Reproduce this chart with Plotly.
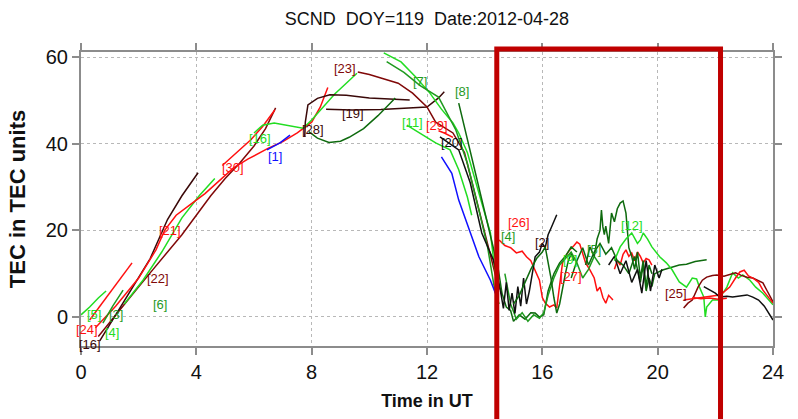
import plotly.graph_objects as go

# ---- colours used for the satellite tracks ----
BRIGHT = "#22dd22"
GREEN = "#1f9a1f"
DKGREEN = "#0e6a0e"
RED = "#ff1010"
MAROON = "#800808"
DARK = "#3a0808"
BLUE = "#1010ff"
BLACK = "#101010"

# ---- TEC tracks (time in UT hours, TEC units) ----
prn05_t = [0.0, 0.3, 0.6, 0.87]
prn05_v = [0.5, 2.3, 4.4, 6.0]

prn24_t = [0.3, 0.8, 1.3, 1.77]
prn24_v = [-0.7, 3.8, 8.3, 12.5]

prn03_t = [0.76, 1.1, 1.46]
prn03_v = [-1.4, 2.5, 6.2]

prn22_t = [0.6, 1.2, 2.0, 2.5, 3.0, 3.5, 4.0, 4.5, 5.0, 5.5, 6.0, 6.4, 6.75]
prn22_v = [-4.5, 0.5, 7, 11, 15, 19, 23.5, 28, 32, 35.5, 39.5, 43.5, 48.3]

prn16a_t = [0.65, 1.2, 1.8, 2.4, 3.0, 3.5, 4.06]
prn16a_v = [-5.5, 0.5, 7, 13.5, 22.5, 28, 33.3]

prn06_t = [1.5, 2.15, 2.8, 3.5, 4.1, 4.64]
prn06_v = [3, 8.5, 15, 22.9, 28, 32]

prn21_t = [0.5, 1.2, 2.0, 2.6, 2.9, 3.3, 3.8, 4.3, 4.8, 5.3, 5.8, 6.2, 6.5, 7.0, 7.5, 8.0, 8.3, 8.56]
prn21_v = [-2.5, 2.5, 9, 15.5, 20, 23.5, 26, 28.5, 31.5, 34.5, 36.5, 38, 39, 40.5, 42.5, 45, 48.5, 53]

prn30_t = [4.9, 5.4, 5.9, 6.3, 6.72]
prn30_v = [35, 38, 41, 44, 47.8]

prn01_t = [6.45, 6.9, 7.25]
prn01_v = [38.6, 40.2, 42]

prn16_t = [6.0, 6.3, 6.7, 7.2, 7.7, 8.0, 8.4, 8.8, 9.2, 9.57]
prn16_v = [42.5, 44.3, 44.8, 44.2, 43.6, 45.5, 48.5, 51.5, 54, 56.3]

prn19a_t = [7.76, 7.78, 7.87, 8.2, 8.63, 9.2, 10.0, 10.7, 11.4]
prn19a_v = [41.6, 45, 49, 50.5, 51.3, 51.2, 50.6, 50.3, 50.1]

prn19_t = [8.5, 9.4, 10.4, 11.4, 12.0, 12.4, 12.6]
prn19_v = [48, 47.8, 47.9, 48.2, 48.5, 50.6, 52]

prn28_t = [7.9, 8.2, 8.6, 9.0, 9.3, 9.8, 10.3, 10.9]
prn28_v = [42.8, 41.3, 40.3, 40.6, 41.5, 43.5, 46.5, 50.6]

prn23_t = [9.6, 10.0, 10.4, 11.0, 11.5, 12.0, 12.3, 12.9, 13.3, 13.6, 13.9, 14.2, 14.4, 14.6]
prn23_v = [56.6, 56, 55.2, 54, 51.7, 48.5, 45, 42.5, 38, 30, 22, 14, 9, 5]

prn13_t = [10.5, 10.8, 11.1, 11.6, 12.1, 12.5, 12.9, 13.1, 13.4, 13.8, 14.2, 14.35, 14.5]
prn13_v = [61.0, 60, 58.9, 55.5, 51.7, 48, 44.8, 42.5, 38, 28.6, 19.4, 11, 7]

prn07_t = [10.6, 11.2, 11.75, 12.4, 13.0, 13.4, 13.8, 14.1, 14.35, 14.5]
prn07_v = [59, 56.5, 53.5, 50.8, 43.2, 35.5, 24.7, 16.2, 6.2, 3]

prn08_t = [13.1, 13.4, 13.7, 14.0, 14.3, 14.5]
prn08_v = [49.4, 41, 33, 24.5, 16, 9]

prn11_t = [11.3, 11.8, 12.3, 12.8, 13.1, 13.4, 13.55]
prn11_v = [44.3, 42.3, 40.2, 38.6, 34, 27.7, 23.5]

prn20_t = [12.45, 12.8, 13.1, 13.5, 13.9, 14.3, 14.6]
prn20_v = [41.6, 40, 38.6, 31, 19.4, 13.2, 5]

prn29_t = [12.4, 12.6, 12.9]
prn29_v = [43, 42.5, 41.5]

prn01b_t = [12.5, 12.86, 13.1, 13.5, 13.8, 14.2, 14.4]
prn01b_v = [37, 33.2, 27, 19.4, 13.9, 8.5, 5]

prn26_t = [14.5, 14.7, 14.9, 15.1, 15.3, 15.45, 15.6, 15.7, 15.8, 15.9, 16.0, 16.1, 16.25, 16.4, 16.5]
prn26_v = [17.8, 16.5, 16, 14.8, 15.2, 13.9, 13, 11.5, 10, 8.5, 4.5, 3.2, 2.3, 2.8, 2.1]

prn27_t = [16.5, 16.6, 16.7, 16.8, 16.95, 17.1, 17.2, 17.3, 17.4, 17.5, 17.65, 17.8, 17.9, 18.0, 18.1, 18.2, 18.3, 18.45]
prn27_v = [2.1, 7, 12.5, 14, 15.5, 16.5, 17.3, 16.8, 14.8, 12.5, 10.9, 9, 6, 6.9, 4.5, 3.2, 5, 3.9]

prn27b_t = [18.5, 18.6, 18.7, 18.8, 18.9, 19.0, 19.1, 19.2, 19.3, 19.4, 19.5, 19.6, 19.7, 19.8]
prn27b_v = [11, 13, 12, 14.5, 15.5, 14, 14.8, 13, 15, 14, 12.5, 13.5, 13.2, 12]

prn02_t = [14.55, 14.65, 14.75, 14.85, 14.95, 15.05, 15.15, 15.25, 15.35, 15.45, 15.55, 15.65,
           15.75, 15.9, 16.0, 16.1, 16.2, 16.3, 16.4, 16.5]
prn02_v = [6, 2, 8, 1.5, 5.5, 0.8, 7, 2.5, 9, 3, 6, 10,
           13.9, 15, 17, 16, 19, 20.5, 22, 23.6]

prn04_t = [15.0, 15.2, 15.4, 15.6, 15.8, 16.0, 16.1, 16.2, 16.3, 16.4, 16.5, 16.6, 16.7, 16.8, 16.9, 17.0, 17.1]
prn04_v = [3, 5, 8, 11, 13.5, 15, 16.2, 13, 9, 4.5, 0.9, 3, 7, 10, 13, 14.5, 13]

prn09_t = [14.7, 14.9, 15.1, 15.3, 15.5, 15.7, 15.9, 16.05, 16.2, 16.4, 16.6, 16.8, 17.0, 17.2, 17.4, 17.6, 17.8, 18.0]
prn09_v = [10, 3, -0.5, 1, -1, 0.5, -0.3, 1, 5, 9, 12, 13.5, 15, 12.5, 9, 11, 14, 12]

prn04b_t = [14.45, 14.6, 14.75, 14.9, 15.0, 15.2, 15.4, 15.6, 15.75, 15.9, 16.05, 16.2, 16.4, 16.6, 16.8, 17.0, 17.2]
prn04b_v = [12, 5.5, 2.3, 1.5, -1, 0.5, -0.5, 1, 0.9, 0, 0.5, 6, 10, 12.5, 14, 16.2, 15]

prn05b_t = [17.5, 17.65, 17.8, 17.9, 18.0, 18.05, 18.1, 18.15, 18.2, 18.3, 18.4, 18.5, 18.6, 18.7, 18.8,
            18.9, 19.0, 19.1, 19.2, 19.3, 19.4, 19.5, 19.6, 19.7, 19.8]
prn05b_v = [12, 16.2, 14, 18, 20, 24.7, 20.8, 19, 21, 17, 24, 22, 25, 26.3, 26.8,
            24, 16, 14, 11, 15, 9, 13, 7, 12, 10]

prn05c_t = [17.0, 17.2, 17.4, 17.6, 17.8, 18.0, 18.2, 18.4, 18.6, 18.8, 19.0, 19.2, 19.4, 19.5, 19.6,
            19.7, 19.8, 19.9, 20.2, 20.5, 20.75, 21.0, 21.3, 21.7]
prn05c_v = [9, 13, 16, 12, 15, 17, 14.5, 16, 13, 12, 10, 14, 8, 12, 6,
            9, 7, 10, 10.9, 11.5, 12, 12.2, 12.8, 13.2]

prn10_t = [18.3, 18.5, 18.7, 18.9, 19.1, 19.3, 19.45, 19.6, 19.75, 19.9, 20.05, 20.15]
prn10_v = [12, 14, 10, 13, 8, 11, 5.5, 13, 6, 12, 9, 11]

prn12_t = [18.5, 18.7, 18.9, 19.1, 19.3, 19.4, 19.5, 19.65, 19.8, 20.07, 20.3, 20.5, 20.65, 20.75, 21.0,
           21.2, 21.35, 21.45, 21.6, 21.65, 21.7, 21.9, 22.1, 22.4, 22.6, 22.8, 22.95, 23.2, 23.4, 23.65, 24.0]
prn12_v = [13, 16.2, 18, 19.4, 17, 17.8, 19.4, 18, 16.2, 13.9, 12.5, 10.9, 9.2, 8.1, 6.9,
           9, 8.8, 6.9, 4.6, 0, 2.3, 3.9, 3.9, 6.9, 10.2, 9, 9.7, 8.5, 6.9, 5.5, 2.8]

prn25_t = [20.9, 21.05, 21.2, 21.4, 21.55, 21.7, 21.9, 22.05, 22.3, 22.5, 22.7, 22.9, 23.1, 23.3, 23.5, 23.65, 23.8, 24.0]
prn25_v = [2.1, 3.2, 3.9, 6.9, 8.5, 9.2, 9.6, 9.7, 9.4, 9.8, 10.2, 9.6, 9.2, 9, 8.3, 7.9, 6, 3.5]

prn31_t = [20.9, 21.2, 21.55, 21.9, 22.15, 22.3, 22.5, 22.7, 22.85, 23.0, 23.15, 23.3, 23.5, 23.65, 23.8, 24.0]
prn31_v = [3.9, 4.2, 4.6, 4.8, 5.1, 5.8, 6.9, 9, 10.4, 10.8, 9.5, 9, 8, 6.2, 5, 3.2]

prn31b_t = [21.2, 21.5, 21.8, 22.1, 22.4]
prn31b_v = [4.5, 4.2, 4.4, 4.1, 4.3]

prn32_t = [21.6, 21.8, 22.0, 22.15, 22.4, 22.6, 22.85, 23.1, 23.3, 23.5, 23.7, 23.85, 24.0]
prn32_v = [7, 6.2, 5.5, 4.6, 4.8, 4.6, 4.9, 5.1, 4.6, 3.9, 2.5, 1, -0.7]

tracks = [
    (prn22_t, prn22_v, MAROON), (prn16a_t, prn16a_v, DARK), (prn06_t, prn06_v, BRIGHT),
    (prn21_t, prn21_v, RED), (prn30_t, prn30_v, RED), (prn05_t, prn05_v, BRIGHT),
    (prn24_t, prn24_v, RED), (prn03_t, prn03_v, GREEN), (prn01_t, prn01_v, BLUE),
    (prn16_t, prn16_v, BRIGHT), (prn19a_t, prn19a_v, DARK), (prn19_t, prn19_v, DARK),
    (prn28_t, prn28_v, DKGREEN), (prn23_t, prn23_v, MAROON), (prn13_t, prn13_v, BRIGHT),
    (prn07_t, prn07_v, GREEN), (prn08_t, prn08_v, DKGREEN), (prn11_t, prn11_v, BRIGHT),
    (prn20_t, prn20_v, BLACK), (prn29_t, prn29_v, RED), (prn01b_t, prn01b_v, BLUE),
    (prn26_t, prn26_v, RED), (prn27_t, prn27_v, RED), (prn27b_t, prn27b_v, RED),
    (prn04b_t, prn04b_v, DKGREEN), (prn09_t, prn09_v, GREEN), (prn02_t, prn02_v, BLACK),
    (prn04_t, prn04_v, DKGREEN), (prn05c_t, prn05c_v, DKGREEN), (prn05b_t, prn05b_v, DKGREEN),
    (prn10_t, prn10_v, BLACK), (prn12_t, prn12_v, BRIGHT), (prn25_t, prn25_v, MAROON),
    (prn31_t, prn31_v, RED), (prn31b_t, prn31b_v, RED), (prn32_t, prn32_v, BLACK),
]

# ---- PRN labels ----
label_text = ["[5]", "[24]", "[16]", "[3]", "[4]", "[6]", "[22]", "[21]", "[30]", "[16]", "[1]",
              "[28]", "[23]", "[13]", "[19]", "[7]", "[8]", "[11]", "[29]", "[20]", "[26]", "[4]",
              "[2]", "[9]", "[27]", "[5]", "[12]", "[25]"]
label_t = [0.45, 0.22, 0.3, 1.2, 1.07, 2.74, 2.67, 3.08, 5.27, 6.2, 6.72,
           8.04, 9.15, 10.36, 9.43, 11.75, 13.2, 11.5, 12.35, 12.85, 15.2, 14.8,
           15.98, 16.95, 17.0, 17.8, 19.1, 20.65]
label_v = [0.6, -2.8, -6.3, 0.5, -3.5, 2.8, 9.0, 20.0, 34.6, 41.3, 37.0,
           43.2, 57.5, 61.7, 47.1, 54.3, 52.0, 45.0, 44.2, 40.2, 21.9, 18.5,
           17.3, 13.2, 9.3, 15.5, 21.2, 5.5]
label_color = [BRIGHT, RED, DARK, GREEN, BRIGHT, GREEN, MAROON, RED, RED, BRIGHT, BLUE,
               DARK, MAROON, BRIGHT, DARK, GREEN, GREEN, BRIGHT, RED, BLACK, RED, GREEN,
               DARK, BRIGHT, RED, GREEN, BRIGHT, MAROON]

# highlighted storm interval (UT hours)
box_start, box_end = 14.42, 22.18

fig = go.Figure()
for t, v, c in tracks:
    fig.add_trace(go.Scatter(x=t, y=v, mode="lines", line=dict(color=c, width=1.5),
                             showlegend=False, hoverinfo="skip"))

label_font = "Liberation Sans Narrow, Arial Narrow, Liberation Sans, Arial"
for txt, t, v, c in zip(label_text, label_t, label_v, label_color):
    fig.add_annotation(x=t, y=v, text=txt, showarrow=False, xanchor="center", yanchor="middle",
                       font=dict(family=label_font, size=13, color=c))

fig.add_shape(type="rect", xref="x", yref="paper", x0=box_start, x1=box_end, y0=-0.35, y1=1.01,
              line=dict(color="#c00000", width=5), fillcolor="rgba(0,0,0,0)", layer="above")

axis_common = dict(showline=True, linecolor="#8c8c8c", linewidth=2, mirror="ticks",
                   ticks="outside", ticklen=7, tickwidth=2, tickcolor="#8c8c8c",
                   showgrid=True, gridcolor="#b8b8b8", griddash="dot", gridwidth=1,
                   zeroline=False, tickfont=dict(family="Liberation Sans, Arial", size=20, color="#111"))

fig.update_xaxes(range=[0, 24], tickvals=[0, 4, 8, 12, 16, 20, 24], **axis_common,
                 title=dict(text="<b>Time in UT</b>", standoff=12,
                            font=dict(family="Liberation Sans, Arial", size=18, color="#111")))
fig.update_yaxes(range=[-6.7, 61.2], tickvals=[0, 20, 40, 60], **axis_common,
                 title=dict(text="<b>TEC in TEC units</b>", standoff=14,
                            font=dict(family="Liberation Sans, Arial", size=22, color="#111")))

fig.update_layout(
    width=798, height=419,
    margin=dict(l=81, r=25, t=52, b=73),
    paper_bgcolor="white", plot_bgcolor="white",
    title=dict(text="SCND  DOY=119  Date:2012-04-28", x=0.535, xanchor="center", y=0.955, yanchor="middle",
               font=dict(family="Liberation Sans, Arial", size=18, color="#111")),
)

fig.write_html("out.html")
